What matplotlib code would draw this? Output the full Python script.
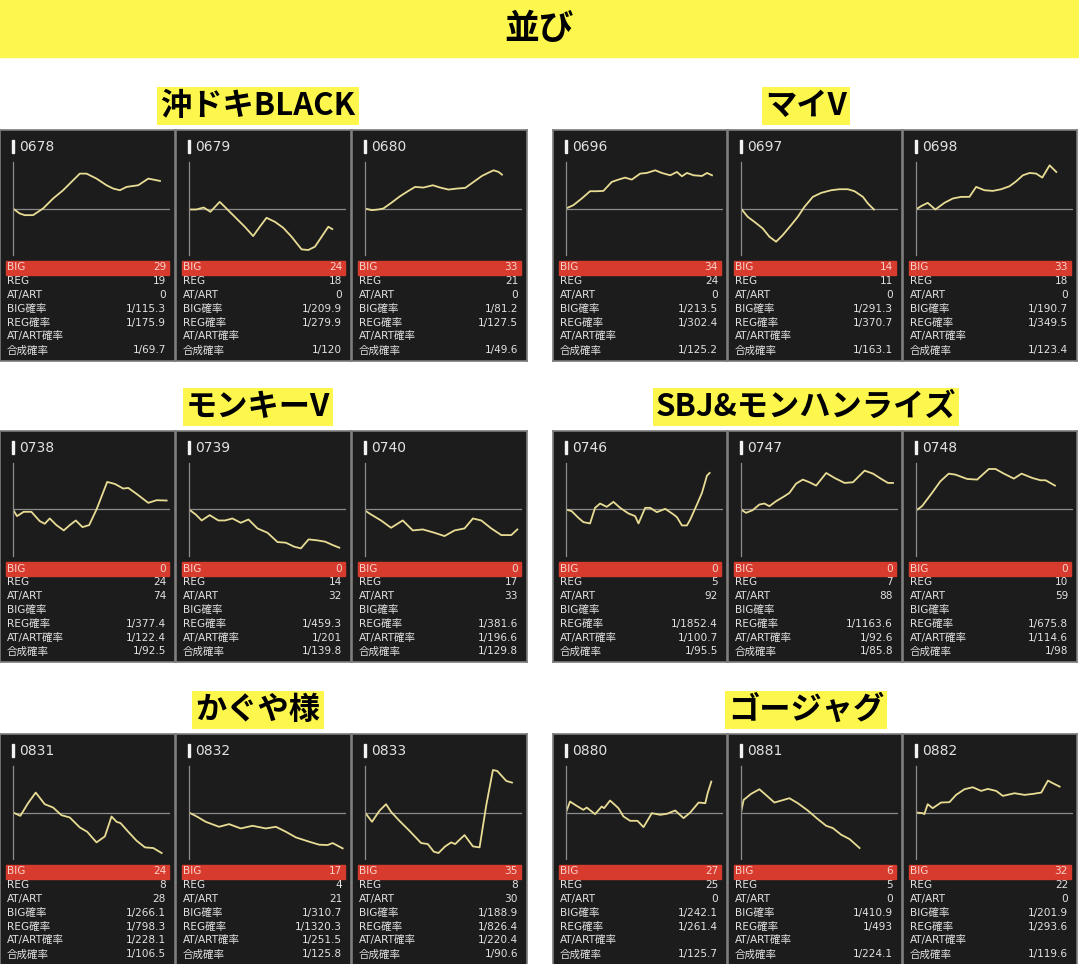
import matplotlib
matplotlib.use('Agg')
import matplotlib.pyplot as plt
from matplotlib.patches import Rectangle

plt.rcParams['font.family'] = ['Noto Sans CJK JP', 'DejaVu Sans']

W, H = 1079, 964

# data (slump units are the image's own scale)
title = '並び'
group_names = ['沖ドキBLACK', 'マイV', 'モンキーV', 'SBJ&モンハンライズ', 'かぐや様', 'ゴージャグ']
machine_ids = ['0678', '0679', '0680', '0696', '0697', '0698',
			   '0738', '0739', '0740', '0746', '0747', '0748',
			   '0831', '0832', '0833', '0880', '0881', '0882']

slump_x = [
	[0, 20, 35, 60, 90, 120, 150, 175, 200, 220, 250, 280, 300, 320, 340, 375, 405, 440],
	[0, 22, 44, 64, 92, 117, 142, 167, 192, 212, 232, 257, 282, 307, 337, 357, 377, 397, 417, 429],
	[0, 20, 40, 55, 80, 105, 130, 150, 175, 203, 225, 250, 275, 300, 325, 350, 370, 385, 400, 410],
	[0, 22, 47, 72, 92, 112, 137, 157, 177, 197, 222, 242, 267, 287, 312, 332, 347, 362, 382, 407, 422, 437],
	[0, 20, 40, 65, 85, 105, 125, 150, 170, 190, 215, 240, 270, 295, 320, 340, 365, 380, 398],
	[0, 15, 35, 58, 85, 110, 135, 160, 180, 205, 230, 255, 280, 300, 320, 340, 360, 378, 400, 420],
	[0, 12, 32, 55, 80, 95, 110, 130, 152, 170, 188, 208, 228, 250, 282, 305, 330, 345, 370, 405, 430, 460],
	[0, 20, 38, 62, 88, 108, 130, 155, 178, 205, 235, 265, 290, 315, 335, 358, 385, 408, 430, 450],
	[0, 18, 48, 78, 113, 143, 173, 208, 238, 268, 298, 323, 348, 378, 408, 438, 456],
	[0, 17, 37, 52, 72, 87, 102, 122, 142, 162, 187, 207, 217, 237, 252, 272, 297, 322, 332, 347, 362, 372, 392, 407, 422, 430],
	[0, 15, 35, 55, 70, 85, 105, 130, 145, 165, 185, 205, 225, 255, 280, 310, 335, 370, 395, 420, 440, 455],
	[0, 18, 48, 73, 98, 118, 153, 183, 218, 238, 263, 293, 316, 348, 373, 388, 416],
	[0, 22, 45, 68, 95, 120, 145, 170, 200, 222, 250, 275, 295, 310, 322, 345, 370, 395, 420, 445],
	[0, 25, 50, 90, 120, 155, 190, 230, 260, 290, 320, 360, 390, 415, 430, 460],
	[0, 21, 43, 63, 78, 103, 133, 168, 188, 206, 220, 240, 258, 270, 280, 298, 323, 343, 363, 383, 396, 423, 440],
	[0, 12, 32, 52, 62, 87, 107, 114, 132, 157, 172, 192, 214, 232, 257, 282, 302, 327, 352, 372, 397, 417, 424, 435],
	[0, 8, 30, 55, 80, 100, 145, 170, 200, 230, 255, 275, 300, 325, 355],
	[0, 20, 25, 35, 50, 75, 100, 120, 145, 170, 195, 215, 240, 260, 295, 325, 350, 375, 395, 410, 430],
]
slump_y = [
	[0, -15, -20, -20, 0, 30, 55, 80, 105, 105, 90, 70, 60, 55, 65, 70, 90, 83],
	[-3, -3, 3, -10, 20, -5, -30, -55, -83, -55, -28, -40, -58, -85, -123, -125, -115, -85, -55, -62],
	[0, -5, -3, 0, 18, 37, 53, 65, 63, 70, 63, 57, 60, 62, 80, 98, 108, 115, 110, 102],
	[0, 10, 30, 52, 52, 53, 80, 87, 93, 87, 105, 107, 115, 107, 100, 110, 97, 107, 100, 98, 107, 100],
	[0, -25, -40, -60, -85, -100, -80, -50, -25, 5, 35, 47, 55, 58, 58, 52, 35, 15, -3],
	[-3, 7, 17, -3, 17, 30, 35, 35, 65, 55, 53, 58, 67, 82, 100, 107, 105, 93, 130, 110],
	[0, -20, -7, -7, -35, -43, -27, -47, -63, -47, -33, -53, -47, 0, 83, 77, 63, 65, 47, 20, 28, 27],
	[0, -15, -33, -17, -33, -33, -27, -40, -30, -57, -70, -98, -100, -112, -117, -90, -93, -97, -107, -115],
	[-3, -15, -33, -55, -33, -63, -60, -70, -80, -63, -57, -27, -33, -57, -77, -77, -60],
	[0, -5, -25, -38, -42, 5, 18, 8, 23, 5, -12, -20, -42, 5, 5, -8, 2, -15, -23, -48, -48, -30, 15, 50, 102, 110],
	[0, -10, -2, 15, 18, 10, 25, 40, 50, 78, 90, 82, 72, 110, 95, 80, 82, 117, 108, 92, 80, 80],
	[-3, 10, 50, 85, 108, 105, 92, 90, 122, 122, 108, 93, 108, 95, 88, 88, 72],
	[0, -10, 28, 60, 25, 15, -8, -15, -45, -58, -90, -72, -12, -28, -32, -58, -85, -105, -107, -122],
	[0, -13, -28, -43, -35, -48, -40, -48, -43, -58, -75, -88, -97, -98, -92, -108],
	[0, -28, 5, 25, 2, -25, -55, -92, -95, -118, -122, -102, -90, -95, -85, -68, -102, -105, 22, 128, 125, 95, 90],
	[0, 33, 20, 8, 15, -5, 18, 13, 36, 13, -12, -25, -25, -44, -2, -7, -4, 6, -17, 0, 30, 28, 58, 93],
	[0, 38, 56, 70, 48, 30, 43, 28, 6, -20, -40, -47, -67, -80, -107],
	[0, -2, -5, 25, 13, 30, 31, 53, 70, 76, 65, 71, 65, 50, 58, 53, 56, 60, 96, 88, 78],
]

row_labels = ['BIG', 'REG', 'AT/ART', 'BIG確率', 'REG確率', 'AT/ART確率', '合成確率']
big_count = [29, 24, 33, 34, 14, 33, 0, 0, 0, 0, 0, 0, 24, 17, 35, 27, 6, 32]
reg_count = [19, 18, 21, 24, 11, 18, 24, 14, 17, 5, 7, 10, 8, 4, 8, 25, 5, 22]
at_count = [0, 0, 0, 0, 0, 0, 74, 32, 33, 92, 88, 59, 28, 21, 30, 0, 0, 0]
big_prob = ['1/115.3', '1/209.9', '1/81.2', '1/213.5', '1/291.3', '1/190.7',
			'', '', '', '', '', '',
			'1/266.1', '1/310.7', '1/188.9', '1/242.1', '1/410.9', '1/201.9']
reg_prob = ['1/175.9', '1/279.9', '1/127.5', '1/302.4', '1/370.7', '1/349.5',
			'1/377.4', '1/459.3', '1/381.6', '1/1852.4', '1/1163.6', '1/675.8',
			'1/798.3', '1/1320.3', '1/826.4', '1/261.4', '1/493', '1/293.6']
at_prob = ['', '', '', '', '', '',
		   '1/122.4', '1/201', '1/196.6', '1/100.7', '1/92.6', '1/114.6',
		   '1/228.1', '1/251.5', '1/220.4', '', '', '']
total_prob = ['1/69.7', '1/120', '1/49.6', '1/125.2', '1/163.1', '1/123.4',
			  '1/92.5', '1/139.8', '1/129.8', '1/95.5', '1/85.8', '1/98',
			  '1/106.5', '1/125.8', '1/90.6', '1/125.7', '1/224.1', '1/119.6']

YELLOW = '#fdf74d'
PANEL_BG = '#1c1c1c'
EDGE = '#7c7c7c'
AXIS = '#8c8c8c'
LINE = '#e8dc95'
RED = '#d63b2e'
TXT = '#e2e2e2'
PANEL_FONT = ['DejaVu Sans', 'Noto Sans CJK JP']


def px_axes(fig, x, y, w, h):
	return fig.add_axes([x / W, 1 - (y + h) / H, w / W, h / H])


def draw_panel(fig, x0, y0, w, h, k):
	bg = px_axes(fig, x0, y0, w, h)
	bg.set_facecolor(PANEL_BG)
	bg.set_xlim(0, w)
	bg.set_ylim(h, 0)
	bg.set_xticks([])
	bg.set_yticks([])
	for s in bg.spines.values():
		s.set_color(EDGE)
		s.set_linewidth(1.2)

	# machine number with the little white bar
	bg.add_patch(Rectangle((12, 10), 2, 13, color='#f2f2f2'))
	bg.text(19, 17, machine_ids[k], color=TXT, fontsize=10, family=PANEL_FONT,
			va='center', ha='left')

	# slump graph
	ch = px_axes(fig, x0 + 13, y0 + 32, 157, 93)
	ch.patch.set_alpha(0)
	ch.axhline(0, color=AXIS, lw=0.9)
	ch.plot(slump_x[k], slump_y[k], color=LINE, lw=1.3)
	ch.set_xlim(0, 470)
	ch.set_ylim(-140, 140)
	ch.set_xticks([])
	ch.set_yticks([])
	for name, s in ch.spines.items():
		s.set_visible(name == 'left')
	ch.spines['left'].set_color(AXIS)
	ch.spines['left'].set_linewidth(0.9)

	# stats table
	values = [str(big_count[k]), str(reg_count[k]), str(at_count[k]),
			  big_prob[k], reg_prob[k], at_prob[k], total_prob[k]]
	bg.add_patch(Rectangle((6, 131), w - 12, 13.5, color=RED))
	for i in range(len(row_labels)):
		yy = 137.5 + i * 13.8
		col = '#f7d2cb' if i == 0 else TXT
		bg.text(7, yy, row_labels[i], color=col, fontsize=7.6, family=PANEL_FONT,
				va='center', ha='left')
		bg.text(w - 9, yy, values[i], color=col, fontsize=7.6, family=PANEL_FONT,
				va='center', ha='right')


fig = plt.figure(figsize=(W / 100, H / 100), dpi=100)
fig.patch.set_facecolor('white')

base = fig.add_axes([0, 0, 1, 1])
base.set_xlim(0, W)
base.set_ylim(H, 0)
base.axis('off')
base.add_patch(Rectangle((0, 0), W, 57, color=YELLOW))
base.text(W / 2, 28, title, fontsize=25, fontweight='bold', ha='center', va='center')

row_tops = [130, 431, 734]
label_y = [106, 407, 710]
group_x = [0, 553]
label_x = [258, 806]
panel_w = [175, 174]

for g in range(len(group_names)):
	r = g // 2
	c = g % 2
	base.text(label_x[c], label_y[r], group_names[g], fontsize=22.5, fontweight='bold',
			  ha='center', va='center', zorder=1,
			  bbox=dict(boxstyle='square,pad=0.1', fc=YELLOW, ec='none'))
	for j in range(3):
		k = g * 3 + j
		x0 = group_x[c] + j * (panel_w[c] + 1)
		draw_panel(fig, x0, row_tops[r], panel_w[c], 231, k)

fig.savefig('out.png', dpi=100)
